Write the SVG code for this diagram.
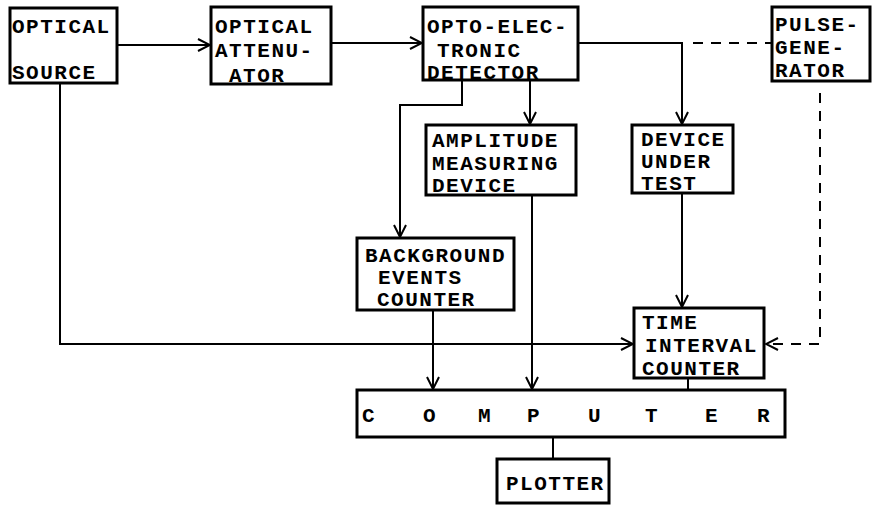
<svg xmlns="http://www.w3.org/2000/svg" width="873" height="508" viewBox="0 0 873 508">
<style>
.box{fill:#fff;stroke:#000;stroke-width:3}
.t{font-family:"Liberation Mono","Courier New",monospace;font-weight:bold;font-size:21px;letter-spacing:1.5px;fill:#000}
.c{fill:none;stroke:#000;stroke-width:2}
.d{fill:none;stroke:#000;stroke-width:2;stroke-dasharray:10 8}
</style>
<defs>
<marker id="a" viewBox="0 0 14 14" refX="13" refY="7" markerWidth="14" markerHeight="14" markerUnits="userSpaceOnUse" orient="auto">
<path d="M1,1 L13,7 L1,13" fill="none" stroke="#000" stroke-width="2"/>
</marker>
</defs>
<rect width="873" height="508" fill="#fff"/>
<g id="connectors">
<path class="c" d="M117,45 H210" marker-end="url(#a)"/>
<path class="c" d="M331,43 H422" marker-end="url(#a)"/>
<path class="c" d="M578,43 H682 V124" marker-end="url(#a)"/>
<path class="d" d="M693,43 H772"/>
<path class="c" d="M530,80 V124" marker-end="url(#a)"/>
<path class="c" d="M462,80 V105 H400 V237" marker-end="url(#a)"/>
<path class="c" d="M682,193 V307" marker-end="url(#a)"/>
<path class="c" d="M60,83 V344 H633" marker-end="url(#a)"/>
<path class="d" d="M820,93 V344 H766" marker-end="url(#a)"/>
<path class="c" d="M433,310 V389" marker-end="url(#a)"/>
<path class="c" d="M532,195 V389" marker-end="url(#a)"/>
<path class="c" d="M688,378 V390"/>
<path class="c" d="M553,437 V459"/>
</g>
<g id="optical-source">
<rect class="box" x="10" y="8" width="107" height="75"/>
<text class="t" x="12" y="33">OPTICAL</text>
<text class="t" x="12" y="79">SOURCE</text>
</g>
<g id="optical-attenuator">
<rect class="box" x="211" y="7" width="120" height="77"/>
<text class="t" x="215" y="33">OPTICAL</text>
<text class="t" x="215" y="57">ATTENU-</text>
<text class="t" x="229" y="82">ATOR</text>
</g>
<g id="detector">
<rect class="box" x="423" y="7" width="155" height="73"/>
<text class="t" x="427" y="33">OPTO-ELEC-</text>
<text class="t" x="437" y="57">TRONIC</text>
<text class="t" x="427" y="79">DETECTOR</text>
</g>
<g id="pulse-generator">
<rect class="box" x="772" y="7" width="98" height="74"/>
<text class="t" x="775" y="31">PULSE-</text>
<text class="t" x="775" y="54">GENE-</text>
<text class="t" x="775" y="77">RATOR</text>
</g>
<g id="amplitude">
<rect class="box" x="426" y="125" width="150" height="70"/>
<text class="t" x="432" y="147">AMPLITUDE</text>
<text class="t" x="432" y="170">MEASURING</text>
<text class="t" x="432" y="192">DEVICE</text>
</g>
<g id="dut">
<rect class="box" x="632" y="125" width="101" height="68"/>
<text class="t" x="641" y="146">DEVICE</text>
<text class="t" x="641" y="168">UNDER</text>
<text class="t" x="641" y="190">TEST</text>
</g>
<g id="background">
<rect class="box" x="357" y="238" width="157" height="72"/>
<text class="t" x="365" y="262">BACKGROUND</text>
<text class="t" x="378" y="284">EVENTS</text>
<text class="t" x="377" y="306">COUNTER</text>
</g>
<g id="tic">
<rect class="box" x="634" y="308" width="130" height="70"/>
<text class="t" x="642" y="329">TIME</text>
<text class="t" x="645" y="352">INTERVAL</text>
<text class="t" x="642" y="375">COUNTER</text>
</g>
<g id="computer">
<rect class="box" x="357" y="390" width="428" height="47"/>
<text class="t" x="362" y="422">C</text>
<text class="t" x="423" y="422">O</text>
<text class="t" x="478" y="422">M</text>
<text class="t" x="527" y="422">P</text>
<text class="t" x="588" y="422">U</text>
<text class="t" x="645" y="422">T</text>
<text class="t" x="705" y="422">E</text>
<text class="t" x="757" y="422">R</text>
</g>
<g id="plotter">
<rect class="box" x="497" y="459" width="112" height="44"/>
<text class="t" x="506" y="490">PLOTTER</text>
</g>
</svg>
